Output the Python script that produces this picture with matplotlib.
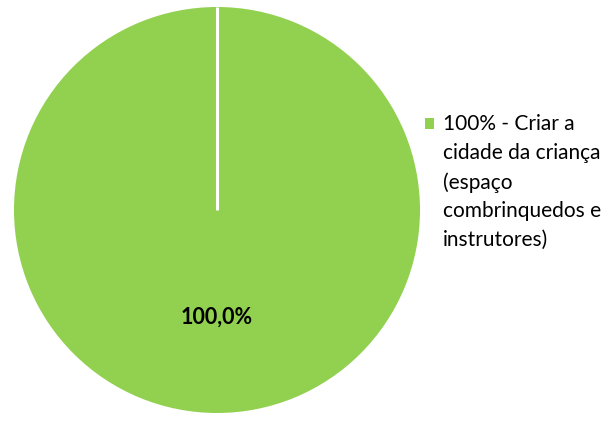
import matplotlib
matplotlib.use("Agg")
import matplotlib.pyplot as plt
import numpy
from matplotlib.patches import Patch, Rectangle
from matplotlib.legend_handler import HandlerPatch

# data
valores = [100]
rotulos = ["100% - Criar a\ncidade da criança\n(espaço\ncombrinquedos e\ninstrutores)"]
cores = ["#92D050"]

plt.rcParams['font.family'] = ['Lato', 'DejaVu Sans']

leg_fontsize = 15
leg_linespacing = 1.55


class TopSquare(HandlerPatch):
    # keep the square next to the first line of a multi-line label
    def create_artists(self, legend, orig_handle, xdescent, ydescent, width, height, fontsize, trans):
        nlines = len(rotulos[0].split("\n"))
        shift = (nlines - 1) / 2 * fontsize * leg_linespacing * 0.909
        p = Rectangle((-xdescent, -ydescent + shift), width, height,
                      facecolor=orig_handle.get_facecolor(), edgecolor="none", transform=trans)
        return [p]


fig = plt.figure(figsize=(6.15, 4.24), dpi=100)
ax = fig.add_axes([14/615, 11/424, 406/615, 406/424])

wedges, texts, autotexts = ax.pie(valores, colors=cores, startangle=90, counterclock=False,
                                  autopct=lambda p: f"{p:.1f}%".replace(".", ","),
                                  pctdistance=0.53,
                                  wedgeprops=dict(edgecolor="none"))
for t in autotexts:
    t.set_fontsize(15.5)
    t.set_fontweight("bold")
    t.set_color("black")

# white separator at the start of the single slice
for w in wedges:
    ang = numpy.deg2rad(w.theta1)
    cx, cy = w.center
    ax.plot([cx, cx + w.r * numpy.cos(ang)], [cy, cy + w.r * numpy.sin(ang)],
            color="white", linewidth=2.2, solid_capstyle="butt")

ax.set_xlim(-1.0, 1.0)
ax.set_ylim(-1.0, 1.0)
ax.set_aspect("equal")

handles = [Patch(facecolor=c, edgecolor="none") for c in cores]
leg = fig.legend(handles, rotulos, loc="upper left", bbox_to_anchor=(425/615, 1 - 114/424),
                 frameon=False, fontsize=leg_fontsize, handlelength=0.44, handleheight=0.44,
                 handletextpad=0.43, borderpad=0, borderaxespad=0, labelspacing=0,
                 handler_map={Patch: TopSquare()})
for t in leg.get_texts():
    t.set_linespacing(leg_linespacing)

fig.savefig("out.png", dpi=100)
